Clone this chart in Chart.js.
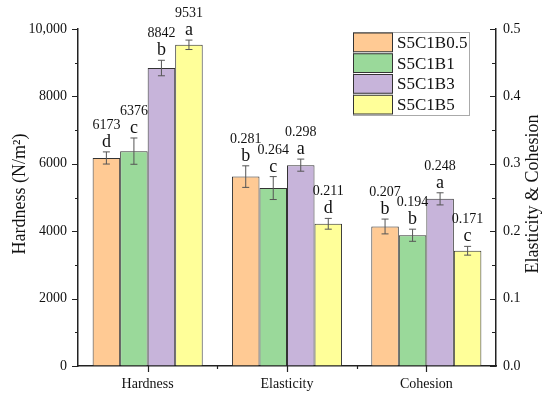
<!DOCTYPE html>
<html>
<head>
<meta charset="utf-8">
<script src="https://cdn.jsdelivr.net/npm/chart.js@4"></script>
<style>
  body { margin: 0; background: #fff; }
  #wrap { width: 550px; height: 399px; }
</style>
</head>
<body>
<div id="wrap"><canvas id="chart"></canvas></div>
<script>
const categories = ['Hardness', 'Elasticity', 'Cohesion'];
const seriesNames = ['S5C1B0.5', 'S5C1B1', 'S5C1B3', 'S5C1B5'];
const hardness = [6173, 6376, 8842, 9531];
const hardnessErr = [180, 390, 230, 140];
const elasticity = [0.281, 0.264, 0.298, 0.211];
const elasticityErr = [0.016, 0.017, 0.009, 0.008];
const cohesion = [0.207, 0.194, 0.248, 0.171];
const cohesionErr = [0.011, 0.009, 0.009, 0.0065];
const hardnessLetters = ['d', 'c', 'b', 'a'];
const elasticityLetters = ['b', 'c', 'a', 'd'];
const cohesionLetters = ['b', 'b', 'a', 'c'];
const hardnessTicks = [0, 2000, 4000, 6000, 8000, 10000];
const rightTicks = [0, 0.1, 0.2, 0.3, 0.4, 0.5];

const colors = ['#FFCA94', '#9AD99A', '#C7B4DA', '#FFFF99'];
const serif = '"Liberation Serif", "Times New Roman", serif';

// hardness on the left axis, elasticity & cohesion on the right axis
const datasets = [];
seriesNames.forEach((name, i) => {
    datasets.push({
        label: name, yAxisID: 'y', stack: 'h' + i,
        data: [hardness[i], null, null],
        err: [hardnessErr[i], null, null],
        letters: [hardnessLetters[i], null, null],
        texts: [String(hardness[i]), null, null],
        backgroundColor: colors[i]
    });
});
seriesNames.forEach((name, i) => {
    datasets.push({
        label: name, yAxisID: 'y2', stack: 'e' + i,
        data: [null, elasticity[i], cohesion[i]],
        err: [null, elasticityErr[i], cohesionErr[i]],
        letters: [null, elasticityLetters[i], cohesionLetters[i]],
        texts: [null, elasticity[i].toFixed(3), cohesion[i].toFixed(3)],
        backgroundColor: colors[i]
    });
});

const extras = {
    id: 'extras',
    afterDatasetsDraw(chart) {
        const ctx = chart.ctx;
        ctx.save();
        chart.data.datasets.forEach((ds, d) => {
            const meta = chart.getDatasetMeta(d);
            const scale = chart.scales[ds.yAxisID];
            ds.data.forEach((v, j) => {
                if (v === null) return;
                const x = meta.data[j].x;
                const yTop = scale.getPixelForValue(v + ds.err[j]);
                const yBot = scale.getPixelForValue(v - ds.err[j]);
                ctx.strokeStyle = '#555';
                ctx.lineWidth = 1;
                ctx.beginPath();
                ctx.moveTo(x, yTop); ctx.lineTo(x, yBot);
                ctx.moveTo(x - 3.5, yTop); ctx.lineTo(x + 3.5, yTop);
                ctx.moveTo(x - 3.5, yBot); ctx.lineTo(x + 3.5, yBot);
                ctx.stroke();
                ctx.fillStyle = '#111';
                ctx.textAlign = 'center';
                ctx.textBaseline = 'alphabetic';
                ctx.font = '18px ' + serif;
                ctx.fillText(ds.letters[j], x, yTop - 5);
                ctx.font = '14px ' + serif;
                ctx.fillText(ds.texts[j], x, yTop - 23);
            });
        });
        ctx.restore();
    },
    afterDraw(chart) {
        const ctx = chart.ctx;
        const {y, y2, x} = chart.scales;
        const area = chart.chartArea;
        ctx.save();
        ctx.strokeStyle = '#222';
        ctx.lineWidth = 1.2;
        ctx.beginPath();
        // left axis ticks, outward
        for (let v = 0; v <= 10000; v += 1000) {
            const py = Math.round(y.getPixelForValue(v)) + 0.5;
            const len = v % 2000 === 0 ? 6 : 3;
            ctx.moveTo(area.left, py); ctx.lineTo(area.left - len, py);
        }
        // right axis ticks, inward
        for (let k = 0; k <= 10; k++) {
            const py = Math.round(y2.getPixelForValue(k * 0.05)) + 0.5;
            const len = k % 2 === 0 ? 6 : 4;
            ctx.moveTo(area.right, py); ctx.lineTo(area.right - len, py);
        }
        // bottom ticks
        categories.forEach((c, i) => {
            const px = Math.round(x.getPixelForValue(i)) + 0.5;
            ctx.moveTo(px, area.bottom); ctx.lineTo(px, area.bottom + 6);
            if (i < categories.length - 1) {
                const mx = Math.round((x.getPixelForValue(i) + x.getPixelForValue(i + 1)) / 2) + 0.5;
                ctx.moveTo(mx, area.bottom); ctx.lineTo(mx, area.bottom + 3);
            }
        });
        ctx.stroke();

        // axis titles
        ctx.fillStyle = '#111';
        ctx.textAlign = 'center';
        ctx.textBaseline = 'middle';
        ctx.font = '18px ' + serif;
        ctx.save();
        ctx.translate(20, 194);
        ctx.rotate(-Math.PI / 2);
        ctx.fillText('Hardness (N/m²)', 0, 0);
        ctx.restore();
        ctx.save();
        ctx.translate(533, 194);
        ctx.rotate(-Math.PI / 2);
        ctx.fillText('Elasticity & Cohesion', 0, 0);
        ctx.restore();

        // legend
        const lx = 353, ly = 32, rowH = 20.75;
        ctx.strokeStyle = '#aaa';
        ctx.lineWidth = 1;
        ctx.strokeRect(lx + 0.5, ly + 0.5, 116, 83);
        ctx.font = '17px ' + serif;
        ctx.textAlign = 'left';
        seriesNames.forEach((name, i) => {
            const ry = ly + i * rowH;
            ctx.fillStyle = colors[i];
            ctx.fillRect(lx + 0.5, ry + 1, 39, rowH - 2);
            ctx.strokeStyle = '#333';
            ctx.strokeRect(lx + 0.5, ry + 1, 39, rowH - 2);
            ctx.fillStyle = '#111';
            ctx.fillText(name, lx + 44, ry + rowH / 2 + 1);
        });
        ctx.restore();
    }
};

new Chart(document.getElementById('chart'), {
    type: 'bar',
    data: { labels: categories, datasets: datasets },
    options: {
        responsive: true,
        maintainAspectRatio: false,
        animation: false,
        skipNull: true,
        categoryPercentage: 0.79,
        barPercentage: 1.0,
        borderColor: '#333',
        borderWidth: 1,
        layout: { padding: { top: 29, right: 0, left: 0, bottom: 0 } },
        plugins: { legend: { display: false }, tooltip: { enabled: false } },
        scales: {
            x: {
                grid: { display: true, drawOnChartArea: false, drawTicks: false, offset: false },
                border: { display: true, color: '#222', width: 1.5 },
                ticks: { color: '#111', font: { family: serif, size: 14 }, padding: 10 },
                afterFit: s => { s.height = 33; }
            },
            y: {
                position: 'left',
                min: 0, max: 10000,
                afterBuildTicks: s => { s.ticks = hardnessTicks.map(v => ({ value: v })); },
                grid: { display: true, drawOnChartArea: false, drawTicks: false },
                border: { display: true, color: '#222', width: 1.5 },
                ticks: {
                    color: '#111', font: { family: serif, size: 14 }, padding: 11,
                    callback: v => v === 10000 ? '10,000' : String(v)
                },
                afterFit: s => { s.width = 78; }
            },
            y2: {
                position: 'right',
                min: 0, max: 0.5,
                afterBuildTicks: s => { s.ticks = rightTicks.map(v => ({ value: v })); },
                grid: { display: true, drawOnChartArea: false, drawTicks: false },
                border: { display: true, color: '#222', width: 1.5 },
                ticks: {
                    color: '#111', font: { family: serif, size: 14 }, padding: 7,
                    callback: v => v.toFixed(1)
                },
                afterFit: s => { s.width = 54; }
            }
        }
    },
    plugins: [extras]
});
</script>
</body>
</html>
